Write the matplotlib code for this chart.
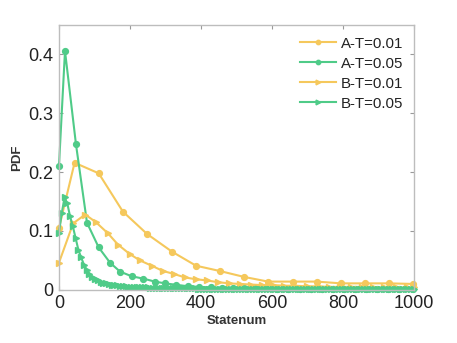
import numpy as np
import matplotlib
matplotlib.use("Agg")
import matplotlib.pyplot as plt

plt.rcParams['font.family'] = ['Liberation Sans', 'DejaVu Sans']

# A-T=0.01 (yellow, circles)
a01_x = [0, 44, 112, 180, 248, 318, 386, 453, 521, 589, 659, 726, 794, 862, 930, 997]
a01_y = [0.105, 0.216, 0.198, 0.133, 0.095, 0.065, 0.041, 0.032, 0.022, 0.014,
         0.014, 0.014, 0.011, 0.011, 0.011, 0.010]

# A-T=0.05 (green, circles)
a05_x = [0, 17, 48, 79, 112, 144, 172, 205, 238, 270, 299, 331, 364, 394, 428,
         459, 490, 521, 553, 584, 615, 646, 678, 709, 740, 771, 803, 834, 865,
         896, 928, 959, 996]
a05_y = [0.21, 0.406, 0.247, 0.114, 0.072, 0.046, 0.031, 0.023, 0.019, 0.014,
         0.011, 0.0085, 0.006, 0.005, 0.004, 0.0035, 0.003, 0.003, 0.0025, 0.0025,
         0.002, 0.002, 0.002, 0.0018, 0.0018, 0.0015, 0.0015, 0.0015, 0.0012,
         0.0012, 0.0012, 0.001, 0.001]

# B-T=0.01 (yellow, triangles)
b01_x = [0, 40, 74, 104, 138, 166, 199, 228, 261, 293, 324, 355, 386, 416, 448,
         479, 510, 541, 573, 604, 635, 666, 698, 729, 760, 791, 823, 854, 885,
         916, 948, 979, 1000]
b01_y = [0.046, 0.113, 0.128, 0.115, 0.096, 0.077, 0.061, 0.050, 0.041, 0.032,
         0.027, 0.021, 0.018, 0.016, 0.013, 0.011, 0.010, 0.009, 0.008, 0.008,
         0.007, 0.007, 0.006, 0.006, 0.005, 0.005, 0.005, 0.005, 0.004, 0.004,
         0.004, 0.004, 0.004]

# B-T=0.05 (green, triangles)
b05_x = np.linspace(0, 1000, 129)
b05_y = [0.097, 0.130, 0.157, 0.147, 0.125, 0.108, 0.088, 0.068, 0.055, 0.043,
         0.034, 0.027, 0.022, 0.019, 0.016, 0.014, 0.012, 0.011, 0.010, 0.009,
         0.008, 0.0075, 0.007, 0.0065, 0.006, 0.0055, 0.005, 0.005, 0.0045, 0.0045,
         0.004, 0.004, 0.004, 0.0035, 0.0035, 0.0035, 0.003, 0.003, 0.003, 0.003,
         0.0028, 0.0028, 0.0026, 0.0026, 0.0025, 0.0025, 0.0024, 0.0024, 0.0023, 0.0023,
         0.0022, 0.0022, 0.0021, 0.0021, 0.002, 0.002, 0.002, 0.002, 0.0019, 0.0019,
         0.0018, 0.0018, 0.0018, 0.0017, 0.0017, 0.0017, 0.0016, 0.0016, 0.0016, 0.0015,
         0.0015, 0.0015, 0.0015, 0.0014, 0.0014, 0.0014, 0.0014, 0.0013, 0.0013, 0.0013,
         0.0013, 0.0012, 0.0012, 0.0012, 0.0012, 0.0012, 0.0011, 0.0011, 0.0011, 0.0011,
         0.0011, 0.001, 0.001, 0.001, 0.001, 0.001, 0.001, 0.001, 0.0009, 0.0009,
         0.0009, 0.0009, 0.0009, 0.0009, 0.0009, 0.0008, 0.0008, 0.0008, 0.0008, 0.0008,
         0.0008, 0.0008, 0.0008, 0.0007, 0.0007, 0.0007, 0.0007, 0.0007, 0.0007, 0.0007,
         0.0007, 0.0007, 0.0006, 0.0006, 0.0006, 0.0006, 0.0006, 0.0006, 0.0006]

labels = ['A-T=0.01', 'A-T=0.05', 'B-T=0.01', 'B-T=0.05']
xticks = [0, 200, 400, 600, 800, 1000]
yticks = [0, 0.1, 0.2, 0.3, 0.4]
ytick_labels = ['0', '0.1', '0.2', '0.3', '0.4']

yellow = '#F5C85C'
green = '#4FCB88'

fig = plt.figure(figsize=(4.57, 3.43), dpi=100)
ax = fig.add_axes([0.129, 0.155, 0.777, 0.772])

kw = dict(linewidth=1.5, clip_on=False)
ax.plot(a01_x, a01_y, color=yellow, marker='o', markersize=4.2, label=labels[0], **kw)
ax.plot(a05_x, a05_y, color=green, marker='o', markersize=4.2, label=labels[1], **kw)
ax.plot(b01_x, b01_y, color=yellow, marker='>', markersize=4.6, label=labels[2], **kw)
ax.plot(b05_x, b05_y, color=green, marker='>', markersize=4.6, label=labels[3], **kw)

ax.set_xlim(0, 1000)
ax.set_ylim(0, 0.45)
ax.set_xticks(xticks)
ax.set_xticklabels([str(t) for t in xticks])
ax.set_yticks(yticks)
ax.set_yticklabels(ytick_labels)

for s in ax.spines.values():
    s.set_color('#bdbdbd')
    s.set_linewidth(1.0)
ax.tick_params(direction='in', top=True, right=True, length=3,
               color='#999999', labelsize=13, labelcolor='#222222', pad=4)

ax.set_xlabel('Statenum', fontsize=9.5, fontweight='bold', color='#333333', labelpad=2)
ax.set_ylabel('PDF', fontsize=9.5, fontweight='bold', color='#333333', labelpad=4)

leg = ax.legend(loc='upper right', frameon=False, fontsize=10.8, handlelength=2.4,
                markerscale=0.75, borderaxespad=0.2, labelspacing=0.4,
                handletextpad=0.3, bbox_to_anchor=(0.995, 0.99))
for t in leg.get_texts():
    t.set_color('#222222')

fig.savefig('out.png', dpi=100)
